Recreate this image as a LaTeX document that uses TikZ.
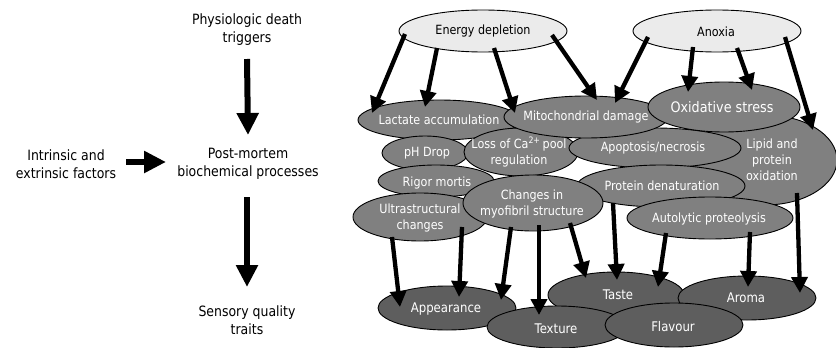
\documentclass[tikz,border=0pt]{standalone}
\usepackage{fontspec}
\setmainfont[FakeStretch=0.88]{DejaVu Sans}
\usetikzlibrary{arrows.meta,calc,shapes.geometric}
\definecolor{lightfill}{HTML}{EBEBEB}
\definecolor{midfill}{HTML}{808080}
\definecolor{darkfill}{HTML}{5E5E5E}
\tikzset{
  ell/.style={ellipse, draw=black, line width=0.9pt, inner sep=0pt, outer sep=0pt},
  lightell/.style={ell, fill=lightfill},
  midell/.style={ell, fill=midfill},
  darkell/.style={ell, fill=darkfill},
  txt/.style={align=center, inner sep=0pt, text=white, font=\fontsize{12.7}{16}\selectfont},
  blacktxt/.style={txt, text=black},
  bigtxt/.style={align=center, inner sep=0pt, text=black, font=\fontsize{14.2}{18}\selectfont},
  arr/.style={line width=4.3pt, -{Triangle[width=16pt,length=16pt]}},
  bigarr/.style={line width=6pt, -{Triangle[width=21pt,length=22pt]}},
}
\begin{document}
\begin{tikzpicture}[x=1pt,y=-1pt]
\useasboundingbox (0,0) rectangle (836,348);
% left part
\node[bigtxt] (pdt) at (247,30) {Physiologic death\\triggers};
\node[bigtxt] (pmb) at (248,164) {Post-mortem\\biochemical processes};
\node[bigtxt] (sqt) at (247,320) {Sensory quality\\traits};
\node[bigtxt] (ief) at (66,164) {Intrinsic and\\extrinsic factors};
\draw[bigarr] ($(pdt)+(0,29)$) -- ($(pmb)+(0,-29)$);
\draw[bigarr] ($(pmb)+(-1,33)$) -- ($(sqt)+(0,-33)$);
\draw[bigarr] ($(ief)+(60,-2)$) -- ($(pmb)+(-82,-2)$);
% top ellipses
\node[lightell, minimum width=168pt, minimum height=42pt] (ed) at (483,31) {};
\node[lightell, minimum width=168pt, minimum height=42pt] (ax) at (717,31) {};
\node[blacktxt] at (ed) {Energy depletion};
\node[blacktxt] at ($(ax)+(-1,1)$) {Anoxia};
% middle ellipses
\node[midell, minimum width=162pt, minimum height=40pt] (lac) at (439,120) {};
\node[midell, minimum width=144pt, minimum height=90pt] (lip) at (765,160) {};
\node[midell, minimum width=86pt, minimum height=34pt] (ph) at (425,153) {};
\node[midell, minimum width=114pt, minimum height=48pt] (ca) at (521,152) {};
\node[txt] at ($(ca)+(-2,0)$) {Loss of Ca\textsuperscript{2+}\,pool\\regulation};
\node[midell, minimum width=172pt, minimum height=40pt] (apo) at (655,148) {};
\node[midell, minimum width=164pt, minimum height=42pt] (mito) at (586,117) {};
\node[midell, minimum width=152pt, minimum height=50pt] (ox) at (724,107) {};
\node[midell, minimum width=116pt, minimum height=32pt] (rig) at (436,181) {};
\node[midell, minimum width=134pt, minimum height=48pt] (ult) at (420,217) {};
\node[midell, minimum width=168pt, minimum height=42pt] (pd) at (661,186) {};
\node[midell, minimum width=166pt, minimum height=42pt] (aut) at (710,218) {};
\node[midell, minimum width=140pt, minimum height=56pt] (myo) at (533,203) {};
\node[txt] at (lac) {Lactate accumulation};
\node[txt] at ($(lip)+(7,0)$) {Lipid and\\protein\\oxidation};
\node[txt] at ($(ph)+(2,0)$) {pH Drop};
\node[txt] at ($(apo)+(-2,0)$) {Apoptosis/necrosis};
\node[txt] at (mito) {Mitochondrial damage};
\node[txt, font=\fontsize{14.5}{18}\selectfont] at ($(ox)+(-2,0)$) {Oxidative stress};
\node[txt] at ($(rig)+(1,2)$) {Rigor mortis};
\node[txt] at ($(ult)+(0,1)$) {Ultrastructural\\changes};
\node[txt] at ($(pd)+(1,0)$) {Protein denaturation};
\node[txt] at ($(aut)+(-1,1)$) {Autolytic proteolysis};
\node[txt] at ($(myo)+(-1,1)$) {Changes in\\myofibril structure};
% bottom ellipses
\node[darkell, minimum width=138pt, minimum height=44pt] (app) at (447,308) {};
\node[darkell, minimum width=136pt, minimum height=46pt] (tas) at (616,295) {};
\node[darkell, minimum width=138pt, minimum height=44pt] (aro) at (747,298) {};
\node[darkell, minimum width=140pt, minimum height=42pt] (tex) at (557,327) {};
\node[darkell, minimum width=138pt, minimum height=44pt] (fla) at (674,325) {};
\node[txt, font=\fontsize{13.3}{16}\selectfont] at ($(app)+(-1,1)$) {Appearance};
\node[txt, font=\fontsize{13.3}{16}\selectfont] at ($(tas)+(2,0)$) {Taste};
\node[txt, font=\fontsize{13.3}{16}\selectfont] at ($(aro)+(-1,0)$) {Aroma};
\node[txt, font=\fontsize{13.3}{16}\selectfont] at ($(tex)+(-1,2)$) {Texture};
\node[txt, font=\fontsize{13.3}{16}\selectfont] at ($(fla)+(-1,2)$) {Flavour};
% top arrows
\draw[arr] ($(ed)+(-78,3)$) -- ($(lac)+(-67,-7)$);
\draw[arr] ($(ed)+(-46,17)$) -- ($(lac)+(-14,-13)$);
\draw[arr] ($(ed)+(11,17)$) -- ($(mito)+(-71,-4)$);
\draw[arr] ($(ed)+(69,4)$) -- ($(mito)+(11,-17)$);
\draw[arr] ($(ax)+(-69,6)$) -- ($(mito)+(29,-14)$);
\draw[arr] ($(ax)+(-24,16)$) -- ($(ox)+(-36,-15)$);
\draw[arr] ($(ax)+(20,17)$) -- ($(ox)+(28,-17)$);
\draw[arr] ($(ax)+(68,6)$) -- ($(lip)+(48,-30)$);
% bottom arrows
\draw[arr] ($(ult)+(-28,20)$) -- ($(app)+(-47,-1)$);
\draw[arr] ($(ult)+(42,10)$) -- ($(app)+(12,-11)$);
\draw[arr] ($(myo)+(-22,24)$) -- ($(app)+(54,-8)$);
\draw[arr] ($(myo)+(6,22)$) -- ($(tex)+(-18,-12)$);
\draw[arr] ($(myo)+(37,20)$) -- ($(tas)+(-30,-17)$);
\draw[arr] ($(pd)+(-48,17)$) -- ($(tas)+(1,-15)$);
\draw[arr] ($(aut)+(-44,15)$) -- ($(tas)+(42,-8)$);
\draw[arr] ($(aut)+(40,14)$) -- ($(aro)+(1,-11)$);
\draw[arr] ($(lip)+(32,33)$) -- ($(aro)+(53,-5)$);
\end{tikzpicture}
\end{document}
